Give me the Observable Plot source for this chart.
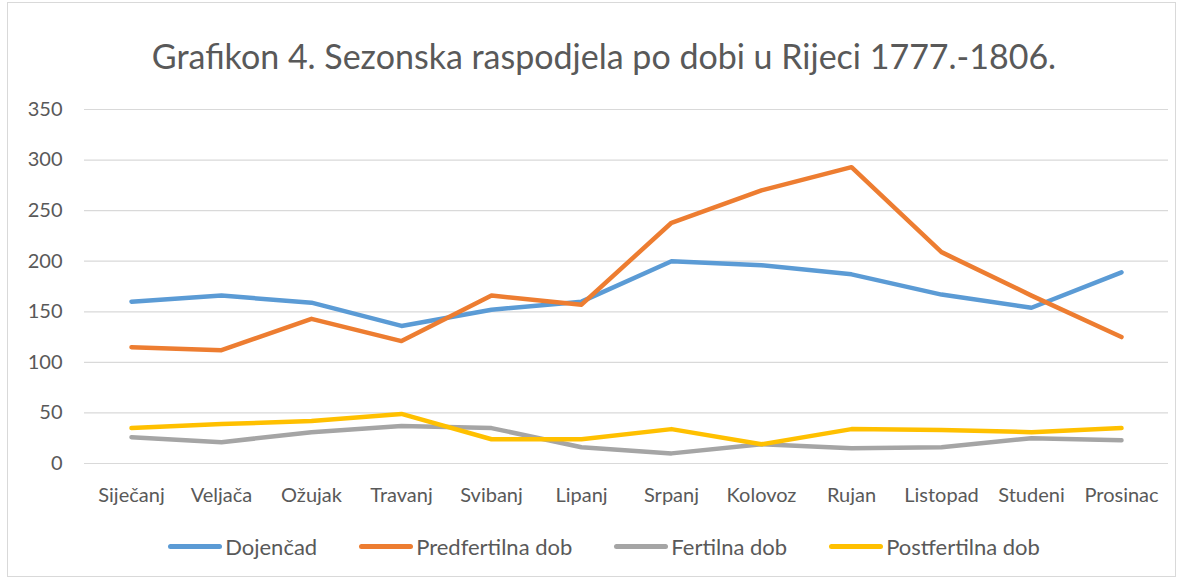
<!DOCTYPE html>
<html>
<head>
<meta charset="utf-8">
<script src="https://cdn.jsdelivr.net/npm/d3@7"></script>
<script src="https://cdn.jsdelivr.net/npm/@observablehq/plot@0.6"></script>
<style>
  html, body { margin: 0; padding: 0; background: #fff; }
  #frame { position: absolute; left: 7px; top: 2px; width: 1169px; height: 575px; border: 1px solid #d9d9d9; box-sizing: border-box; }
  #title { position: absolute; left: 12px; top: 0; width: 1184px; height: 95px; text-align: center; font-family: Lato, "Open Sans", sans-serif; font-size: 34px; color: #595959; line-height: 112px; }
  #chart { position: absolute; left: 0; top: 95px; }
  #legend { position: absolute; left: 0; top: 533px; width: 1184px; display: flex; justify-content: center; font-family: Lato, "Open Sans", sans-serif; font-size: 22px; color: #595959; gap: 42px; padding-left: 24px; box-sizing: border-box; }
  .item { display: flex; align-items: center; }
  .sw { width: 54px; height: 5px; border-radius: 3px; margin-right: 3px; }
</style>
</head>
<body>
<div id="frame"></div>
<div id="title">Grafikon 4. Sezonska raspodjela po dobi u Rijeci 1777.-1806.</div>
<div id="chart"></div>
<div id="legend"></div>
<script>
const months = ["Siječanj","Veljača","Ožujak","Travanj","Svibanj","Lipanj","Srpanj","Kolovoz","Rujan","Listopad","Studeni","Prosinac"];
const seriesNames = ["Dojenčad","Predfertilna dob","Fertilna dob","Postfertilna dob"];
const seriesColors = ["#5B9BD5","#ED7D31","#A5A5A5","#FFC000"];
const dojencad = [160,166,159,136,152,160,200,196,187,167,154,189];
const predfertilna = [115,112,143,121,166,157,238,270,293,209,166,125];
const fertilna = [26,21,31,37,35,16,10,19,15,16,25,23];
const postfertilna = [35,39,42,49,24,24,34,19,34,33,31,35];
const yTicks = [0,50,100,150,200,250,300,350];

const allValues = [dojencad, predfertilna, fertilna, postfertilna];
const rows = [];
allValues.forEach((vals, si) => vals.forEach((v, i) => rows.push({month: months[i], value: v, series: seriesNames[si]})));

const chart = Plot.plot({
  width: 1184,
  height: 420,
  marginTop: 14,
  marginBottom: 52,
  marginLeft: 84,
  marginRight: 16,
  style: {fontFamily: "Lato, 'Open Sans', sans-serif", fontSize: "20px", color: "#595959", background: "transparent"},
  x: {type: "point", domain: months, padding: 0.5, label: null},
  y: {domain: [0, 350], label: null},
  color: {domain: seriesNames, range: seriesColors},
  marks: [
    Plot.ruleY(yTicks, {stroke: "#d9d9d9", strokeWidth: 1.2, strokeOpacity: 1}),
    Plot.axisY({ticks: yTicks, tickSize: 0, tickPadding: 22, label: null}),
    Plot.axisX({tickSize: 0, tickPadding: 24, label: null}),
    Plot.lineY(rows, {x: "month", y: "value", z: "series", stroke: "series", strokeWidth: 4.5, strokeLinecap: "round", strokeLinejoin: "round"})
  ]
});
document.getElementById("chart").appendChild(chart);

const legend = document.getElementById("legend");
seriesNames.forEach((n, i) => {
  const it = document.createElement("div");
  it.className = "item";
  const sw = document.createElement("div");
  sw.className = "sw";
  sw.style.background = seriesColors[i];
  const t = document.createElement("span");
  t.textContent = n;
  it.appendChild(sw); it.appendChild(t);
  legend.appendChild(it);
});
</script>
</body>
</html>
